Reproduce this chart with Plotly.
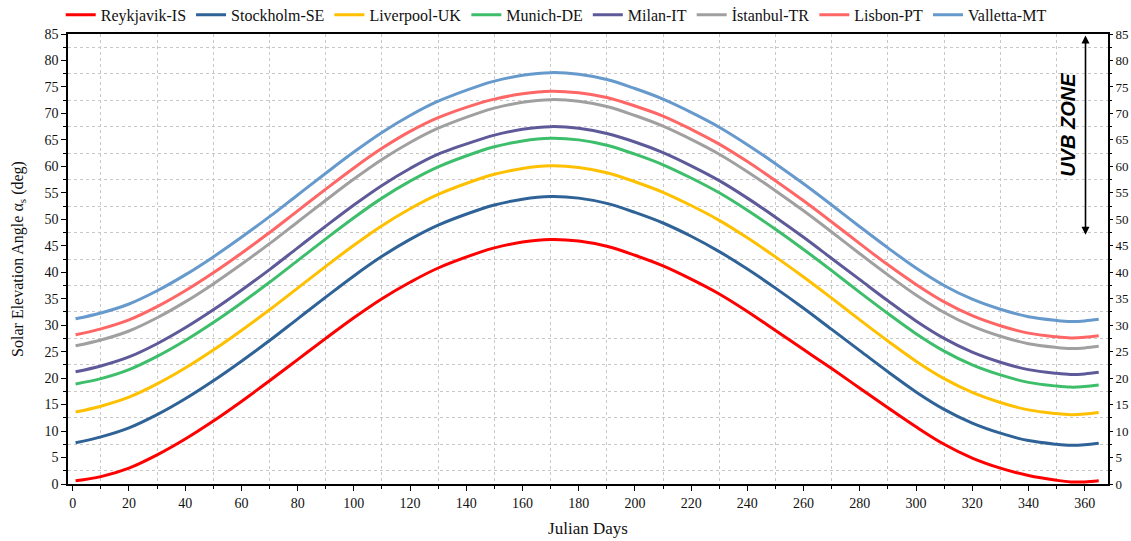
import plotly.graph_objects as go

days = [1, 10, 20, 30, 40, 50, 60, 70, 80, 90, 100, 110, 120, 130, 145, 150, 160, 170, 180,
        190, 200, 210, 220, 230, 240, 250, 260, 270, 280, 290, 300, 310, 320, 330, 340, 350, 355, 360, 365]

reykjavik = [0.6, 1.4, 3.0, 5.5, 8.5, 11.9, 15.6, 19.5, 23.5, 27.5, 31.4, 35.0, 38.1, 40.8, 43.8, 44.6, 45.7, 46.2, 45.9,
             44.9, 43.2, 41.2, 38.7, 35.9, 32.6, 29.0, 25.4, 21.8, 18.1, 14.4, 10.8, 7.5, 4.9, 3.0, 1.6, 0.7, 0.4, 0.4, 0.6]
stockholm = [7.8, 8.9, 10.6, 13.1, 16.1, 19.5, 23.2, 27.1, 31.2, 35.3, 39.3, 43.0, 46.2, 48.9, 51.9, 52.7, 53.8, 54.3, 54.0,
             53.0, 51.3, 49.3, 46.8, 43.9, 40.6, 37.0, 33.2, 29.2, 25.2, 21.2, 17.4, 14.1, 11.5, 9.6, 8.2, 7.5, 7.3, 7.4, 7.7]
liverpool = [13.6, 14.7, 16.4, 18.9, 21.9, 25.3, 29.0, 32.9, 37.0, 41.1, 45.1, 48.8, 52.0, 54.7, 57.7, 58.5, 59.6, 60.1, 59.8,
             58.8, 57.1, 55.1, 52.6, 49.8, 46.5, 42.9, 39.1, 35.1, 31.0, 27.0, 23.2, 19.9, 17.3, 15.4, 14.0, 13.3, 13.1, 13.2, 13.5]
munich = [18.9, 19.9, 21.6, 24.1, 27.1, 30.5, 34.2, 38.1, 42.2, 46.3, 50.3, 54.0, 57.2, 59.9, 62.9, 63.7, 64.8, 65.3, 65.0,
          64.0, 62.3, 60.3, 57.8, 55.0, 51.7, 48.1, 44.3, 40.3, 36.2, 32.2, 28.4, 25.1, 22.5, 20.6, 19.2, 18.5, 18.3, 18.4, 18.7]
milan = [21.2, 22.3, 24.0, 26.5, 29.5, 32.9, 36.6, 40.5, 44.6, 48.7, 52.7, 56.4, 59.6, 62.3, 65.1, 65.9, 67.0, 67.5, 67.2,
         66.2, 64.6, 62.6, 60.1, 57.3, 54.0, 50.4, 46.6, 42.6, 38.6, 34.6, 30.8, 27.5, 24.9, 23.0, 21.6, 20.9, 20.7, 20.8, 21.1]
istanbul = [26.1, 27.2, 28.9, 31.4, 34.4, 37.8, 41.5, 45.4, 49.5, 53.6, 57.6, 61.3, 64.5, 67.2, 70.2, 71.0, 72.1, 72.6, 72.3,
            71.3, 69.6, 67.6, 65.1, 62.3, 59.0, 55.4, 51.6, 47.6, 43.5, 39.5, 35.7, 32.4, 29.8, 27.9, 26.5, 25.8, 25.6, 25.7, 26.0]
lisbon = [28.2, 29.3, 31.0, 33.5, 36.5, 39.9, 43.6, 47.5, 51.6, 55.7, 59.7, 63.4, 66.6, 69.2, 72.0, 72.7, 73.7, 74.2, 73.9,
          73.0, 71.4, 69.5, 67.0, 64.2, 60.9, 57.3, 53.5, 49.5, 45.4, 41.4, 37.7, 34.4, 31.8, 29.9, 28.5, 27.8, 27.6, 27.7, 28.0]
valletta = [31.2, 32.3, 34.0, 36.5, 39.5, 42.9, 46.6, 50.5, 54.6, 58.7, 62.7, 66.4, 69.6, 72.3, 75.3, 76.1, 77.2, 77.7, 77.4,
            76.4, 74.7, 72.7, 70.2, 67.4, 64.1, 60.5, 56.7, 52.7, 48.6, 44.6, 40.8, 37.5, 34.9, 33.0, 31.6, 30.9, 30.7, 30.8, 31.1]

cities = ["Reykjavik-IS", "Stockholm-SE", "Liverpool-UK", "Munich-DE", "Milan-IT", "İstanbul-TR", "Lisbon-PT", "Valletta-MT"]
series = [reykjavik, stockholm, liverpool, munich, milan, istanbul, lisbon, valletta]
colors = ["#FF0000", "#2F6397", "#FFC000", "#3DBE6B", "#5E5A99", "#A0A0A0", "#FF6666", "#6699CC"]

fig = go.Figure()
for name, vals, col in zip(cities, series, colors):
    fig.add_trace(go.Scatter(x=days, y=vals, mode="lines", name=name,
                             line=dict(color=col, width=3, shape="spline", smoothing=1.0)))

# dummy trace so the right-hand axis is drawn
fig.add_trace(go.Scatter(x=[None], y=[None], yaxis="y2", showlegend=False, hoverinfo="skip"))

serif = "Liberation Serif, Times New Roman, serif"
txt = "#111"
grid = dict(showgrid=True, gridcolor="#C8C8C8", griddash="dot", gridwidth=1)

fig.update_layout(
    width=1131, height=541,
    margin=dict(l=68, r=23, t=34, b=57, autoexpand=False),
    paper_bgcolor="white", plot_bgcolor="white",
    font=dict(family=serif, size=13, color=txt),
    legend=dict(orientation="h", x=-0.007, xanchor="left", y=1.005, yanchor="bottom",
                font=dict(family=serif, size=16, color=txt),
                itemwidth=30, tracegroupgap=0, bgcolor="rgba(0,0,0,0)"),
    xaxis=dict(range=[-1.7, 368.3], tick0=0, dtick=20, showgrid=False, zeroline=False, automargin=False,
               showline=True, linecolor="black", linewidth=1.5, mirror=True,
               ticks="outside", ticklen=5, tickcolor="black", tickwidth=1,
               tickfont=dict(family=serif, size=14, color=txt),
               minor=dict(dtick=10, ticks="outside", ticklen=3, tickcolor="black", **grid),
               title=dict(text="Julian Days", font=dict(family=serif, size=17, color=txt), standoff=13)),
    yaxis=dict(range=[0, 85], tick0=0, dtick=5, showgrid=False, zeroline=False, automargin=False,
               showline=True, linecolor="black", linewidth=1.5, mirror=True,
               ticks="outside", ticklen=5, tickcolor="black", tickwidth=1,
               tickfont=dict(family=serif, size=14, color=txt),
               minor=dict(dtick=2.5, ticks="outside", ticklen=3, tickcolor="black", **grid),
               title=dict(text="Solar Elevation Angle α<sub>s</sub> (deg)",
                          font=dict(family=serif, size=16, color=txt), standoff=17)),
    yaxis2=dict(range=[0, 85], tick0=0, dtick=5, overlaying="y", side="right", showgrid=False,
                zeroline=False, showline=False, automargin=False,
                ticks="outside", ticklen=4, tickcolor="black", tickwidth=1,
                tickfont=dict(family=serif, size=13, color=txt),
                minor=dict(dtick=2.5, ticks="outside", ticklen=3, tickcolor="black", showgrid=False)),
)

fig.add_annotation(x=354, y=67.8, xref="x", yref="y", text="<b><i>UVB ZONE</i></b>",
                   textangle=-90, showarrow=False,
                   font=dict(family="Liberation Sans, Arial, sans-serif", size=20, color="black"))
fig.add_annotation(x=360.3, y=84.7, xref="x", yref="y", ax=360.3, ay=46.8, axref="x", ayref="y",
                   text="", showarrow=True, arrowside="end+start", arrowhead=2, arrowsize=1,
                   arrowwidth=1.6, arrowcolor="black")

fig.write_html("out.html", config={"displayModeBar": False},
               post_script="document.body.style.margin='0';document.body.style.overflow='hidden';")
